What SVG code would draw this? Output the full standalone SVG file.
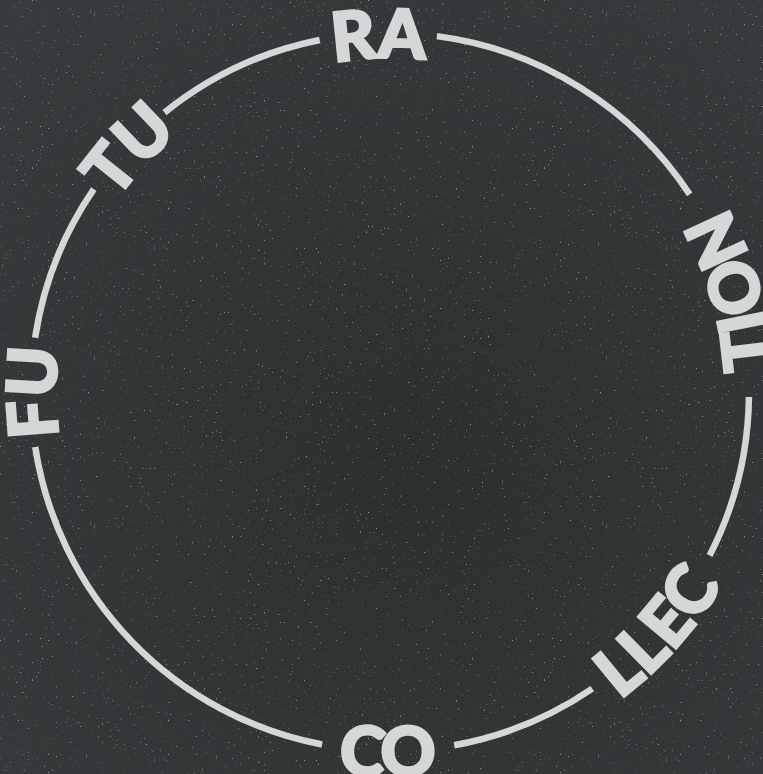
<svg xmlns="http://www.w3.org/2000/svg" width="763" height="774" viewBox="0 0 763 774">
<style>
.w{font-family:"Lato","Open Sans","DejaVu Sans",sans-serif;font-weight:900;font-size:68px;fill:#d4d6d8;stroke:#d4d6d8;stroke-width:2.6;stroke-linejoin:miter;}
.arc{fill:none;stroke:#d4d6d8;stroke-width:6.5;stroke-linecap:butt;}
</style>
<defs>
<filter id="speck" x="0" y="0" width="100%" height="100%">
<feTurbulence type="fractalNoise" baseFrequency="0.5" numOctaves="1" seed="7"/>
<feColorMatrix type="matrix" values="0 0 0 0 1  0 0 0 0 1  0 0 0 0 1  10 0 0 0 -7.0"/>
</filter>
<radialGradient id="bg" cx="55%" cy="60%" r="80%">
<stop offset="0" stop-color="#2a302f"/>
<stop offset="1" stop-color="#363c3d"/>
</radialGradient>
<path id="ptop" d="M 390 726 A 334 334 0 1 1 390 58 A 334 334 0 1 1 390 726"/>
<path id="pbot" d="M 390 8 A 384 384 0 1 0 390 776 A 384 384 0 1 0 390 8"/>
</defs>
<rect width="763" height="774" fill="url(#bg)"/>
<rect width="763" height="774" filter="url(#speck)" opacity="0.45"/>
<g id="connectors">
<path class="arc" d="M 748.96 397.0 A 359 359 0 0 1 709.6 555.6"/>
<path class="arc" d="M 592.3 688.6 A 359 359 0 0 1 454.2 745.2"/>
<path class="arc" d="M 322.1 744.5 A 359 359 0 0 1 35.2 446.9"/>
<path class="arc" d="M 35.1 337.7 A 359 359 0 0 1 93.8 189.2"/>
<path class="arc" d="M 164.5 112.6 A 359 359 0 0 1 319.7 40.0"/>
<path class="arc" d="M 436.9 36.1 A 359 359 0 0 1 689.7 194.4"/>
</g>
<g id="node-fu"><text class="w" text-anchor="middle"><textPath href="#ptop" startOffset="25%">FU</textPath></text></g>
<g id="node-tu"><text class="w" text-anchor="middle"><textPath href="#ptop" startOffset="36.9%">TU</textPath></text></g>
<g id="node-ra"><text class="w" text-anchor="middle"><textPath href="#ptop" startOffset="49.5%">RA</textPath></text></g>
<g id="node-co"><text class="w" text-anchor="middle"><textPath href="#pbot" startOffset="49.9%">CO</textPath></text></g>
<g id="node-llec"><text class="w" text-anchor="middle"><textPath href="#pbot" startOffset="63.4%">LLEC</textPath></text></g>
<g id="node-tion"><text class="w" text-anchor="middle"><textPath href="#pbot" startOffset="79.5%">TION</textPath></text></g>
</svg>
